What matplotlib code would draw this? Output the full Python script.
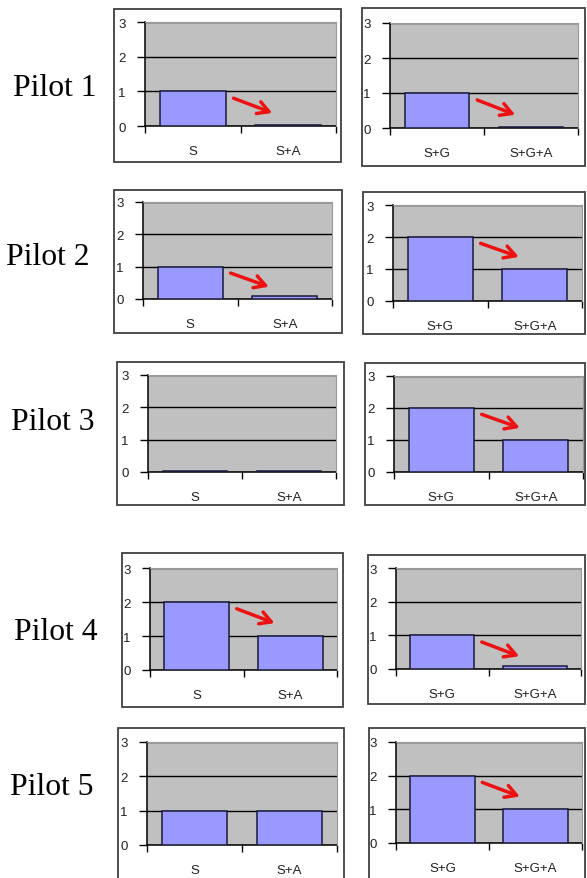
import matplotlib
matplotlib.use('Agg')
from matplotlib import pyplot as plt
from matplotlib.patches import Rectangle

# data
pilots = ['Pilot 1', 'Pilot 2', 'Pilot 3', 'Pilot 4', 'Pilot 5']
left_cats = ['S', 'S+A']
right_cats = ['S+G', 'S+G+A']
left_vals = [[1, 0.03], [1, 0.08], [0.03, 0.03], [2, 1], [1, 1]]
right_vals = [[1, 0.03], [2, 1], [2, 1], [1, 0.08], [2, 1]]
yticks = [0, 1, 2, 3]

# layout in pixels of the 587x879 picture: (x0, top, x1, bottom)
W, H = 587, 879
left_plots = [(145, 23, 336, 127), (143, 203, 332, 300), (148, 376, 336, 473),
              (150, 569, 337, 671), (147, 743, 337, 846)]
right_plots = [(390, 24, 578, 129), (393, 206, 582, 302), (394, 377, 583, 473),
               (396, 569, 581, 670), (396, 743, 582, 844)]
left_boxes = [(114, 10, 341, 163), (114, 191, 342, 334), (117, 363, 344, 506),
              (122, 554, 343, 708), (118, 729, 344, 882)]
right_boxes = [(362, 9, 585, 167), (363, 193, 585, 335), (365, 364, 585, 506),
               (368, 556, 585, 705), (369, 729, 585, 882)]
label_pos = [(55, 96), (48, 265), (53, 430), (56, 640), (52, 795)]

bar_color = '#9999ff'
edge_color = '#1a1a3a'
plot_bg = '#c0c0c0'


def frac(box):
    x0, top, x1, bottom = box
    return [x0 / W, 1 - bottom / H, (x1 - x0) / W, (bottom - top) / H]


def draw_panel(fig, pbox, bbox, cats, vals):
    # outer frame of the chart object
    fx = frac(bbox)
    fig.add_artist(Rectangle((fx[0], fx[1]), fx[2], fx[3], transform=fig.transFigure,
                             fill=False, edgecolor='#404040', linewidth=1.3))

    ax = fig.add_axes(frac(pbox))
    ax.set_facecolor(plot_bg)
    ax.bar(range(len(vals)), vals, width=0.69, color=bar_color,
           edgecolor=edge_color, linewidth=1.1, zorder=3)

    ax.set_xlim(-0.5, len(vals) - 0.5)
    ax.set_ylim(0, 3)
    ax.set_yticks(yticks)
    ax.set_yticklabels([str(t) for t in yticks], fontsize=9.5,
                       fontfamily='Liberation Sans', color='#202020')
    ax.yaxis.grid(True, color='black', linewidth=1.0)
    ax.set_axisbelow(True)

    # category labels centred, tick marks on category boundaries
    ax.set_xticks([i - 0.5 for i in range(len(vals) + 1)])
    ax.set_xticklabels([])
    ax.set_xticks(range(len(vals)), minor=True)
    ax.set_xticklabels(cats, minor=True, fontsize=9.5,
                       fontfamily='Liberation Sans', color='#202020')
    ax.tick_params(axis='x', which='major', length=5, width=1, direction='out')
    ax.tick_params(axis='x', which='minor', length=0, pad=14)
    ax.tick_params(axis='y', length=6, width=1, direction='out', pad=8)

    for side in ['left', 'bottom']:
        ax.spines[side].set_color('black')
        ax.spines[side].set_linewidth(1.1)
    for side in ['top', 'right']:
        ax.spines[side].set_color('#9a9a9a')
        ax.spines[side].set_linewidth(0.8)
        ax.spines[side].set_zorder(4)

    # red arrow where the score drops
    if vals[1] < vals[0]:
        top = vals[0]
        ax.annotate('', xy=(0.86, top - 0.65), xytext=(0.4, top - 0.17),
                    arrowprops=dict(arrowstyle='->,head_length=0.8,head_width=0.45',
                                    color='#ee1111', lw=2.5), zorder=5)
    return ax


fig = plt.figure(figsize=(W / 100, H / 100), dpi=100)

for i in range(len(pilots)):
    draw_panel(fig, left_plots[i], left_boxes[i], left_cats, left_vals[i])
    draw_panel(fig, right_plots[i], right_boxes[i], right_cats, right_vals[i])
    lx, ly = label_pos[i]
    fig.text(lx / W, 1 - ly / H, pilots[i], ha='center', va='baseline',
             fontsize=22.8, fontfamily='Liberation Serif', color='black')

fig.savefig('out.png', dpi=100, facecolor='white')
